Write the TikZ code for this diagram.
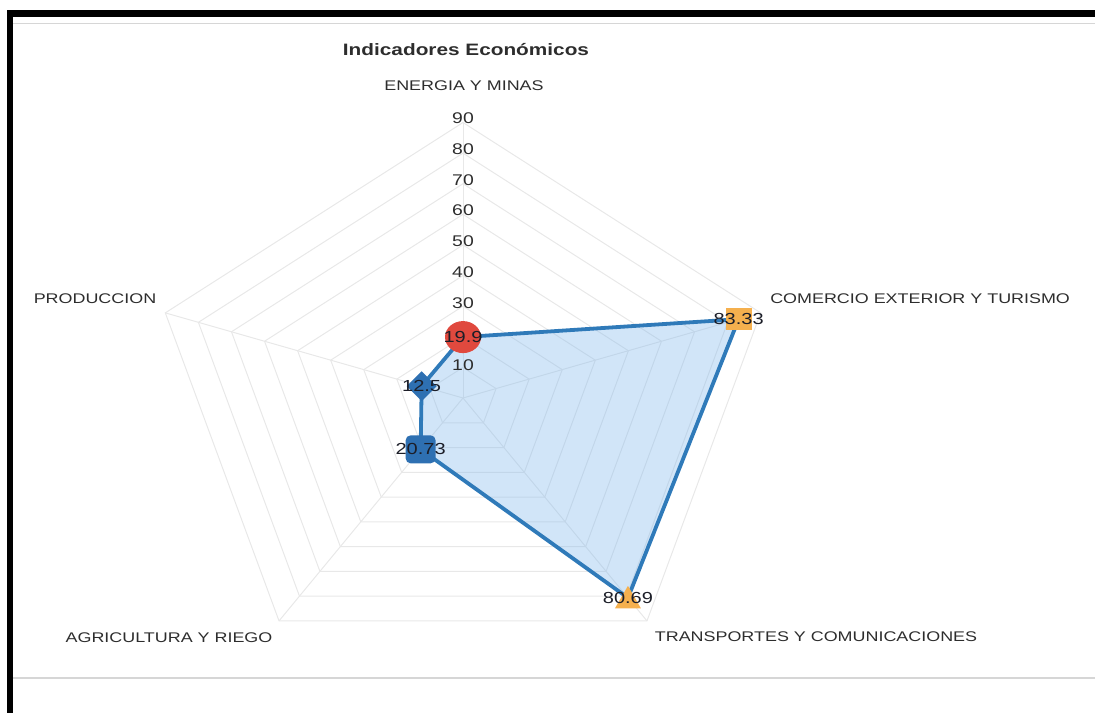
\documentclass[tikz,border=0pt]{standalone}
\usepackage{fontspec}
\setmainfont{Liberation Sans}
\usetikzlibrary{shapes.geometric,calc}
\definecolor{gridc}{RGB}{232,232,232}
\definecolor{sepc}{RGB}{214,214,214}
\definecolor{txt}{RGB}{45,45,45}
\definecolor{valtxt}{RGB}{28,30,40}
\definecolor{fillc}{RGB}{124,181,236}
\definecolor{linec}{RGB}{47,122,185}
\definecolor{bluem}{RGB}{46,112,178}
\definecolor{redm}{RGB}{224,73,62}
\definecolor{orangem}{RGB}{245,176,78}
\begin{document}
\begin{tikzpicture}[x=1pt,y=-1pt,
  lbl/.style={text=txt, font=\fontsize{14}{16}\selectfont, xscale=1.28, inner sep=0pt},
  ttl/.style={text=txt, font=\fontsize{16.5}{18}\selectfont\bfseries, xscale=1.26, inner sep=0pt},
  tick/.style={text=txt, font=\fontsize{15.5}{17}\selectfont, xscale=1.25, inner sep=0pt},
  val/.style={text=valtxt, font=\fontsize{16}{18}\selectfont, xscale=1.25, inner sep=0pt},
  gridline/.style={draw=gridc, line width=1pt},
  serie/.style={draw=linec, line width=3.8pt, line join=round},
  mk/.style={inner sep=0pt, draw=none}]
\useasboundingbox (0,0) rectangle (1095,713);
% frame
\fill[black] (7,10) rectangle (1095,17);
\fill[black] (7,10) rectangle (13,713);
\coordinate (s1a) at (13,23.5); \coordinate (s1b) at (1095,23.5);
\coordinate (s2a) at (13,678); \coordinate (s2b) at (1095,678);
\draw[sepc, line width=1.3pt] (s1a) -- (s1b);
\draw[sepc, line width=1.3pt] (s2a) -- (s2b);
% title and category labels
\node[ttl] (title) at (466,50) {Indicadores Económicos};
\node[lbl] (cen) at (464,86) {ENERGIA Y MINAS};
\node[lbl, anchor=west] (cco) at (770,299) {COMERCIO EXTERIOR Y TURISMO};
\node[lbl] (ctr) at (816,637) {TRANSPORTES Y COMUNICACIONES};
\node[lbl] (cag) at (169,638) {AGRICULTURA Y RIEGO};
\node[lbl] (cpr) at (95,299) {PRODUCCION};
\begin{scope}[shift={(463pt,-398pt)}, x=3.4778pt, y=3.0611pt]
  \coordinate (c) at (0,0);
  \foreach \r in {10,20,...,90}
    \draw[gridline] (90:\r) -- (18:\r) -- (-54:\r) -- (-126:\r) -- (162:\r) -- cycle;
  \foreach \a/\n in {90/ax1,18/ax2,-54/ax3,-126/ax4,162/ax5} {
    \coordinate (\n) at (\a:90);
    \draw[gridline] (c) -- (\n);
  }
  \coordinate (en) at (90:19.9);
  \coordinate (co) at (18:83.33);
  \coordinate (tr) at (-54:80.69);
  \coordinate (ag) at (-126:20.73);
  \coordinate (pr) at (162:12.5);
  \fill[fillc, fill opacity=0.35] (en) -- (co) -- (tr) -- (ag) -- (pr) -- cycle;
  \foreach \v in {10,30,40,50,60,70,80,90}
    \node[tick] (t\v) at (0,{\v*1.0085+0.72}) {\v};
  \draw[serie] (en) -- (co) -- (tr) -- (ag) -- (pr) -- cycle;
  % markers
  \node[mk, ellipse, fill=redm, minimum width=36pt, minimum height=32pt] (men) at (en) {};
  \node[mk, rectangle, fill=orangem, minimum width=26pt, minimum height=22pt] (mco) at (co) {};
  \node[mk, regular polygon, regular polygon sides=3, fill=orangem, minimum size=30pt, yshift=-3pt] (mtr) at (tr) {};
  \node[mk, rectangle, rounded corners=5pt, fill=bluem, minimum width=30pt, minimum height=28pt] (mag) at (ag) {};
  \node[mk, diamond, fill=bluem, minimum width=30pt, minimum height=30pt] (mpr) at (pr) {};
  % value labels
  \node[val] (ven) at (en) {19.9};
  \node[val] (vco) at (co) {83.33};
  \node[val] (vtr) at (tr) {80.69};
  \node[val] (vag) at (ag) {20.73};
  \node[val] (vpr) at (pr) {12.5};
\end{scope}
\end{tikzpicture}
\end{document}
